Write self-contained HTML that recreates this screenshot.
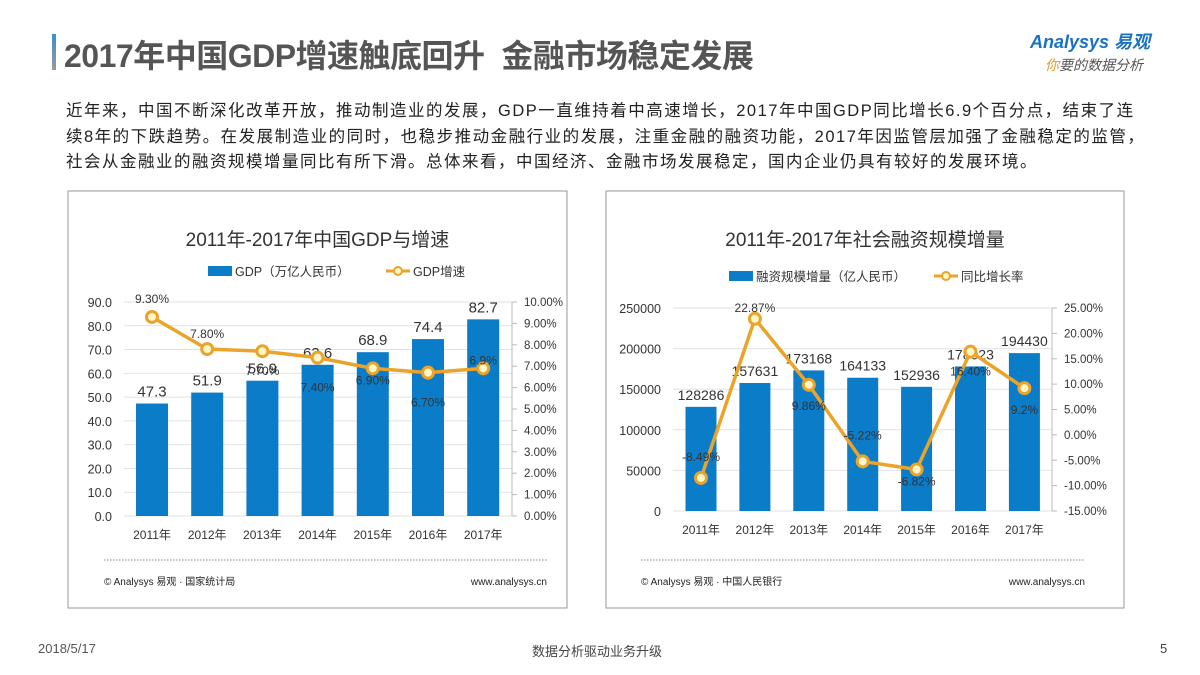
<!DOCTYPE html>
<html><head><meta charset="utf-8"><style>
body{margin:0;width:1200px;height:675px;background:#fff;font-family:"Liberation Sans","Noto Sans CJK SC",sans-serif;overflow:hidden;position:relative}
.abs{position:absolute}
</style></head><body>
<div class="abs" style="left:52px;top:34px;width:4px;height:36px;background:linear-gradient(#3a8fd6,#999)"></div>
<div class="abs" style="left:64px;top:31px;font-size:32px;font-weight:bold;color:#555;letter-spacing:-0.5px;white-space:nowrap">2017年中国GDP增速触底回升&nbsp;&nbsp;金融市场稳定发展</div>
<div class="abs" style="left:1030px;top:28px;font-size:18px;font-weight:bold;color:#1a72c0;font-style:italic">Analysys 易观</div>
<div class="abs" style="left:1045px;top:55px;font-size:14px;color:#555;font-style:italic"><span style="color:#e39a2a">你</span>要的数据分析</div>
<div class="abs" style="left:66px;top:99px;font-size:16.5px;letter-spacing:1.5px;line-height:25.5px;color:#222;white-space:nowrap">近年来，中国不断深化改革开放，推动制造业的发展，GDP一直维持着中高速增长，2017年中国GDP同比增长6.9个百分点，结束了连<br>续8年的下跌趋势。在发展制造业的同时，也稳步推动金融行业的发展，注重金融的融资功能，2017年因监管层加强了金融稳定的监管，<br>社会从金融业的融资规模增量同比有所下滑。总体来看，中国经济、金融市场发展稳定，国内企业仍具有较好的发展环境。</div>
<svg class="abs" style="left:0;top:0" width="1200" height="675" id="svg"></svg>
<div class="abs" style="left:38px;top:641px;font-size:13px;color:#555">2018/5/17</div>
<div class="abs" style="left:532px;top:641px;font-size:13px;color:#444">数据分析驱动业务升级</div>
<div class="abs" style="left:1160px;top:641px;font-size:13px;color:#444">5</div>
<script>
const years=["2011年","2012年","2013年","2014年","2015年","2016年","2017年"];
const gdp=[47.3,51.9,56.9,63.6,68.9,74.4,82.7];
const gdpGrowth=[9.3,7.8,7.7,7.4,6.9,6.7,6.9];
const gdpGrowthLabels=["9.30%","7.80%","7.70%","7.40%","6.90%","6.70%","6.9%"];
const gdpLeftTicks=[0,10,20,30,40,50,60,70,80,90];
const gdpRightTicks=[0,1,2,3,4,5,6,7,8,9,10];
const fin=[128286,157631,173168,164133,152936,178023,194430];
const finGrowth=[-8.49,22.87,9.86,-5.22,-6.82,16.4,9.2];
const finGrowthLabels=["-8.49%","22.87%","9.86%","-5.22%","-6.82%","16.40%","9.2%"];
const finLeftTicks=[0,50000,100000,150000,200000,250000];
const finRightTicks=[-15,-10,-5,0,5,10,15,20,25];

const NS="http://www.w3.org/2000/svg",svg=document.getElementById('svg');
function el(t,a,txt){const e=document.createElementNS(NS,t);for(const k in a)e.setAttribute(k,a[k]);if(txt!==undefined)e.textContent=txt;svg.appendChild(e);return e;}
const BAR="#0b7cc8",LINE="#eba32a";
function chart(c){
  const box=el('rect',{x:c.bx,y:191,width:c.bw,height:417,fill:'none',stroke:'#999','stroke-width':1});
  
  const t=el('text',{x:c.bx+c.bw/2,y:246,'text-anchor':'middle','font-size':19,fill:'#333'},c.title);
  
  const lb=el('rect',{x:c.lgx,y:c.lgy-5,width:24,height:10,fill:BAR});
  
  el('text',{x:c.lgx+27,y:c.lgy+5,'font-size':12.5,fill:'#333'},c.barName);
  const ll=el('line',{x1:c.lg2,y1:c.lgy,x2:c.lg2+24,y2:c.lgy,stroke:LINE,'stroke-width':3});
  
  el('circle',{cx:c.lg2+12,cy:c.lgy,r:4,fill:'#fff6c8',stroke:LINE,'stroke-width':2});
  el('text',{x:c.lg2+27,y:c.lgy+5,'font-size':12.5,fill:'#333'},c.lineName);
  const yL=v=>c.y0-(v-c.lmin)/(c.lmax-c.lmin)*(c.y0-c.y1);
  const yR=v=>c.y0-(v-c.rmin)/(c.rmax-c.rmin)*(c.y0-c.y1);
  const xC=i=>c.xc0+i*c.step;
  c.lt.forEach(v=>{
    const g=el('line',{x1:c.px0,x2:c.px1,y1:yL(v),y2:yL(v),stroke:'#e2e2e2','stroke-width':1});
    
    const tl=el('text',{x:c.px0-12,y:yL(v)+5,'text-anchor':'end','font-size':12.5,fill:'#333'},c.lfmt(v));
    
  });
  el('line',{x1:c.px1,x2:c.px1,y1:c.y1,y2:c.y0,stroke:'#bbb'});
  c.rt.forEach(v=>{
    el('line',{x1:c.px1,x2:c.px1+5,y1:yR(v),y2:yR(v),stroke:'#bbb'});
    const tr=el('text',{x:c.px1+12,y:yR(v)+4,'font-size':11.5,fill:'#333'},v.toFixed(2)+'%');
    
  });
  c.bars.forEach((v,i)=>{
    const b=el('rect',{x:xC(i)-c.bwid/2,y:yL(v),width:c.bwid,height:c.y0-yL(v),fill:BAR});
    
    const bl=el('text',{x:xC(i),y:yL(v)-7,'text-anchor':'middle','font-size':c.bfs,fill:'#333'},c.bfmt(v));
    
    const xl=el('text',{x:xC(i),y:c.y0+23,'text-anchor':'middle','font-size':12,fill:'#333'},years[i]);
    
  });
  const pts=c.line.map((v,i)=>xC(i)+','+yR(v)).join(' ');
  const pl=el('polyline',{points:pts,fill:'none',stroke:LINE,'stroke-width':3.5});
  
  c.line.forEach((v,i)=>{
    const p=el('circle',{cx:xC(i),cy:yR(v),r:5.5,fill:'#fff6c8',stroke:LINE,'stroke-width':3});
    
    const off=c.loff[i];
    const pl2=el('text',{x:xC(i),y:yR(v)+off,'text-anchor':'middle','font-size':12,fill:'#333'},c.llab[i]);
    
  });
  const d=el('line',{x1:c.dx0,x2:c.dx1,y1:560,y2:560,stroke:'#888','stroke-dasharray':'1.5 1.5'});
  
  const s=el('text',{x:c.dx0,y:585,'font-size':10,fill:'#222'},c.src);
  
  el('text',{x:c.dx1,y:585,'text-anchor':'end','font-size':10,fill:'#222'},'www.analysys.cn');
}
chart({id:'gdp-chart',bx:68,bw:499,title:'2011年-2017年中国GDP与增速',lgx:208,lgy:271,lg2:386,
 barName:'GDP（万亿人民币）',lineName:'GDP增速',y0:516,y1:302,lmin:0,lmax:90,rmin:0,rmax:10,px0:124,px1:512,
 xc0:152,step:55.2,bwid:32,bfs:15,bars:gdp,line:gdpGrowth,llab:gdpGrowthLabels,lt:gdpLeftTicks,rt:gdpRightTicks,
 lfmt:v=>v.toFixed(1),bfmt:v=>v.toFixed(1),loff:[-14,-11,24,34,16,34,-4],dx0:104,dx1:547,src:'© Analysys 易观 · 国家统计局'});
chart({id:'financing-chart',bx:606,bw:518,title:'2011年-2017年社会融资规模增量',lgx:729,lgy:276,lg2:934,
 barName:'融资规模增量（亿人民币）',lineName:'同比增长率',y0:511,y1:308,lmin:0,lmax:250000,rmin:-15,rmax:25,px0:673,px1:1052,
 xc0:701,step:53.9,bwid:31,bfs:14,bars:fin,line:finGrowth,llab:finGrowthLabels,lt:finLeftTicks,rt:finRightTicks,
 lfmt:v=>String(v),bfmt:v=>String(v),loff:[-17,-7,25,-22,16,24,26],dx0:641,dx1:1085,src:'© Analysys 易观 · 中国人民银行'});
</script>
</body></html>
